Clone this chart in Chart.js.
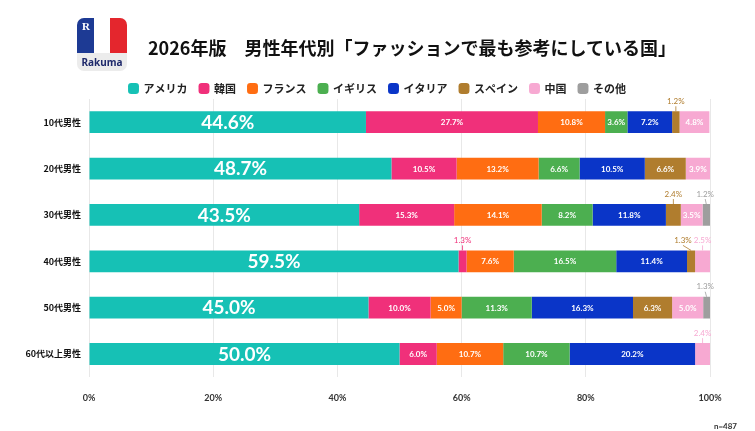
<!DOCTYPE html>
<html>
<head>
<meta charset="utf-8">
<script src="https://cdn.jsdelivr.net/npm/chart.js@4"></script>
<style>
  html, body { margin: 0; padding: 0; background: #fff; }
  #wrap { position: relative; width: 755px; height: 431px; }
  #logo { position: absolute; left: 77px; top: 18px; width: 50px; height: 53px; border-radius: 7px; overflow: hidden; background: #ececec; }
  #logo .flag { position: absolute; left: 0; top: 0; width: 50px; height: 35px; display: flex; }
  #logo .flag div { flex: 1; }
  #logo .r { position: absolute; left: 5px; top: 2px; color: #fff; font: bold 11px "Liberation Serif", serif; }
  #logo .name { position: absolute; left: 0; right: 0; top: 37px; text-align: center; color: #1f2a6b; font: bold 10px "Noto Sans", sans-serif; }
  #title { position: absolute; left: 148px; top: 34px; font: bold 18px "Noto Sans CJK JP", sans-serif; color: #111; white-space: nowrap; }
  #note { position: absolute; right: 18px; top: 421px; font: bold 8px "Lato", sans-serif; color: #333; }
  canvas { position: absolute; left: 0; top: 0; }
</style>
</head>
<body>
<div id="wrap">
  <canvas id="shareChart" width="755" height="431"></canvas>
  <div id="logo">
    <div class="flag"><div style="background:#1d3a94"></div><div style="background:#fff"></div><div style="background:#e4262d"></div></div>
    <div class="r">R</div>
    <div class="name">Rakuma</div>
  </div>
  <div id="title">2026年版　男性年代別「ファッションで最も参考にしている国」</div>
  <div id="note">n=487</div>
</div>
<script>
// chart data
const ageGroups = ['10代男性', '20代男性', '30代男性', '40代男性', '50代男性', '60代以上男性'];
const countries = ['アメリカ', '韓国', 'フランス', 'イギリス', 'イタリア', 'スペイン', '中国', 'その他'];
const america = [44.6, 48.7, 43.5, 59.5, 45.0, 50.0];
const korea   = [27.7, 10.5, 15.3, 1.3, 10.0, 6.0];
const france  = [10.8, 13.2, 14.1, 7.6, 5.0, 10.7];
const britain = [3.6, 6.6, 8.2, 16.5, 11.3, 10.7];
const italy   = [7.2, 10.5, 11.8, 11.4, 16.3, 20.2];
const spain   = [1.2, 6.6, 2.4, 1.3, 6.3, 0];
const china   = [4.8, 3.9, 3.5, 2.5, 5.0, 2.4];
const other   = [0, 0, 1.2, 0, 1.3, 0];
const xTicks = [0, 20, 40, 60, 80, 100];

const colors = ['#16c1b5', '#f0307a', '#ff6d12', '#4caf50', '#0a35c8', '#b07d2e', '#f7a9d2', '#9e9e9e'];
const seriesValues = [america, korea, france, britain, italy, spain, china, other];

// draws the % labels, small ones above the bar with a leader line
const segmentLabels = {
    id: 'segmentLabels',
    afterDatasetsDraw(chart) {
        const ctx = chart.ctx;
        const area = chart.chartArea;
        ctx.save();
        ctx.textAlign = 'center';
        ctx.textBaseline = 'middle';
        ageGroups.forEach((g, j) => {
            const outside = [];
            chart.data.datasets.forEach((ds, i) => {
                const v = ds.data[j];
                if (!v) return;
                const bar = chart.getDatasetMeta(i).data[j];
                const left = Math.min(bar.x, bar.base);
                const right = Math.min(Math.max(bar.x, bar.base), area.right);
                const cx = (left + right) / 2;
                const text = v.toFixed(1) + '%';
                if (v >= 3) {
                    ctx.fillStyle = '#fff';
                    ctx.font = i === 0 ? 'bold 19px Lato, sans-serif' : 'bold 8px Lato, sans-serif';
                    ctx.fillText(text, cx, bar.y + 0.5);
                } else {
                    ctx.font = '8px Lato, sans-serif';
                    const w = ctx.measureText(text).width;
                    outside.push({ text, cx, x: cx, w, top: bar.y - bar.height / 2, color: ds.backgroundColor });
                }
            });
            // keep outside labels inside the chart and apart from each other
            outside.sort((a, b) => a.cx - b.cx);
            let limit = area.right + 4;
            for (let k = outside.length - 1; k >= 0; k--) {
                const o = outside[k];
                if (o.x + o.w / 2 > limit) o.x = limit - o.w / 2;
                limit = o.x - o.w / 2 - 2;
            }
            outside.forEach(o => {
                const ty = o.top - 10;
                ctx.strokeStyle = o.color;
                ctx.lineWidth = 0.8;
                ctx.beginPath();
                ctx.moveTo(o.x, ty + 5);
                ctx.lineTo(o.cx, o.top);
                ctx.stroke();
                ctx.fillStyle = o.color;
                ctx.font = '8px Lato, sans-serif';
                ctx.fillText(o.text, o.x, ty);
            });
        });
        ctx.restore();
    }
};

// centre the legend on the whole page and drop it a little
const legendShift = {
    id: 'legendShift',
    afterLayout(chart) {
        const lg = chart.legend;
        const shift = (chart.width / 2) - (lg.left + lg.right) / 2;
        lg.left += shift;
        lg.right += shift;
        lg.top += 5;
        lg.bottom += 5;
    }
};

const ctx = document.getElementById('shareChart').getContext('2d');
window.shareChart = new Chart(ctx, {
    type: 'bar',
    data: {
        labels: ageGroups,
        datasets: countries.map((name, i) => ({
            label: name,
            data: seriesValues[i],
            backgroundColor: colors[i],
            borderWidth: 0,
            barPercentage: 0.47,
            categoryPercentage: 1
        }))
    },
    options: {
        indexAxis: 'y',
        responsive: false,
        animation: false,
        layout: { padding: { top: 66, right: 45, bottom: 13, left: 0 } },
        scales: {
            x: {
                stacked: true,
                min: 0,
                max: 100,
                afterBuildTicks: (scale) => { scale.ticks = xTicks.map(v => ({ value: v })); },
                grid: { color: '#e8e8e8', drawTicks: false },
                border: { display: false },
                ticks: {
                    padding: 15,
                    color: '#333',
                    font: { family: 'Lato', size: 9, weight: 'bold' },
                    callback: (v) => v + '%'
                }
            },
            y: {
                stacked: true,
                grid: { display: false, drawTicks: false },
                border: { display: false },
                afterFit: (scale) => { scale.width = 89; },
                ticks: {
                    padding: 8,
                    color: '#111',
                    font: { family: 'Noto Sans CJK JP', size: 9, weight: 'bold' }
                }
            }
        },
        plugins: {
            legend: {
                position: 'top',
                labels: {
                    usePointStyle: true,
                    pointStyle: 'rectRounded',
                    boxWidth: 9,
                    boxHeight: 9,
                    padding: 12,
                    color: '#222',
                    font: { family: 'Noto Sans CJK JP', size: 11, weight: 'bold' }
                }
            },
            tooltip: { enabled: false }
        }
    },
    plugins: [segmentLabels, legendShift]
});
</script>
</body>
</html>
